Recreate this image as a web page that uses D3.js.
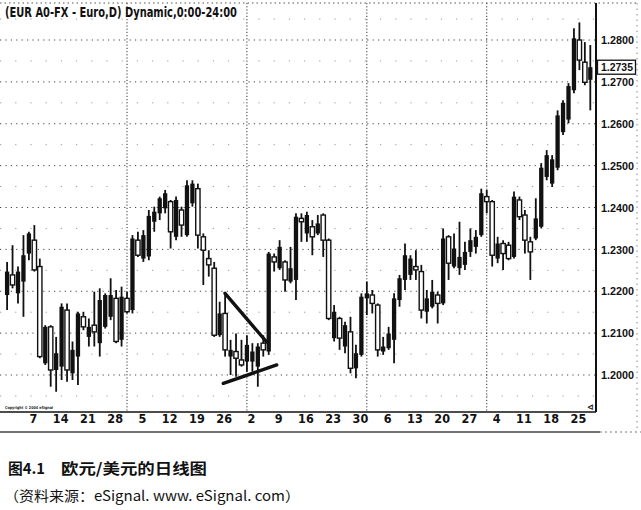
<!DOCTYPE html>
<html>
<head>
<meta charset="utf-8">
<script src="https://cdn.jsdelivr.net/npm/d3@7"></script>
<style>
  body { margin: 0; background: #fff; }
  svg { display: block; }
</style>
</head>
<body>
<svg id="chart"></svg>
<script>
// trading days of 2004, month by month
const junDays = [1,2,3,4,7,8,9,10,11,14,15,16,17,18,21,22,23,24,25,28,29,30];
const julDays = [1,2,5,6,7,8,9,12,13,14,15,16,19,20,21,22,23,26,27,28,29,30];
const augDays = [2,3,4,5,6,9,10,11,12,13,16,17,18,19,20,23,24,25,26,27,30,31];
const sepDays = [1,2,3,6,7,8,9,10,13,14,15,16,17,20,21,22,23,24,27,28,29,30];
const octDays = [1,4,5,6,7,8,11,12,13,14,15,18,19,20,21,22,25,26,27,28];

// daily OHLC
const opens = [
  1.2191,1.2239,1.2195,1.2223,1.2290,1.2322,1.2259,1.2028,1.2115,1.2012,1.2020,1.2155,1.2004,1.2044,1.2139,1.2091,1.2119,1.2076,1.2115,1.2139,1.2183,1.2084,
  1.2183,1.2155,1.2322,1.2278,1.2283,1.2366,1.2386,1.2398,1.2414,1.2330,1.2394,1.2334,1.2410,1.2445,1.2330,1.2278,1.2255,1.2095,1.2147,1.2044,1.2056,1.2036,
  1.2032,1.2032,1.2020,1.2076,1.2056,1.2282,1.2255,1.2270,1.2223,1.2227,1.2374,1.2338,1.2354,1.2338,1.2382,1.2322,1.2088,1.2135,1.2068,1.2103,1.2016,1.2048,
  1.2183,1.2191,1.2167,1.2056,1.2064,1.2084,1.2179,1.2227,1.2239,1.2259,1.2247,1.2151,1.2163,1.2191,1.2171,1.2330,1.2259,1.2255,1.2263,1.2294,1.2306,1.2334,
  1.2426,1.2414,1.2278,1.2314,1.2310,1.2282,1.2418,1.2382,1.2318,1.2326,1.2354,1.2473,1.2457,1.2495,1.2580,1.2610,1.2680,1.2800,1.2747,1.2705
];
const highs = [
  1.2270,1.2310,1.2259,1.2334,1.2342,1.2358,1.2278,1.2119,1.2119,1.2091,1.2171,1.2171,1.2080,1.2151,1.2151,1.2135,1.2199,1.2207,1.2195,1.2231,1.2203,1.2211,
  1.2199,1.2334,1.2342,1.2346,1.2394,1.2402,1.2426,1.2442,1.2418,1.2426,1.2402,1.2465,1.2465,1.2457,1.2338,1.2298,1.2270,1.2175,1.2191,1.2084,1.2099,1.2084,
  1.2095,1.2076,1.2076,1.2095,1.2294,1.2290,1.2322,1.2274,1.2306,1.2386,1.2386,1.2390,1.2370,1.2382,1.2386,1.2326,1.2167,1.2139,1.2127,1.2139,1.2072,1.2195,
  1.2223,1.2203,1.2171,1.2091,1.2115,1.2195,1.2239,1.2314,1.2286,1.2298,1.2263,1.2203,1.2227,1.2199,1.2350,1.2334,1.2338,1.2366,1.2318,1.2350,1.2346,1.2445,
  1.2442,1.2418,1.2330,1.2322,1.2318,1.2438,1.2426,1.2394,1.2330,1.2422,1.2506,1.2537,1.2525,1.2632,1.2656,1.2697,1.2828,1.2842,1.2795,1.2788
];
const lows = [
  1.2155,1.2207,1.2171,1.2139,1.2274,1.2247,1.2040,1.2024,1.1972,1.1960,1.1988,1.1984,1.1988,1.1976,1.2107,1.2068,1.2068,1.2044,1.2111,1.2131,1.2076,1.2068,
  1.2147,1.2147,1.2282,1.2270,1.2274,1.2342,1.2370,1.2386,1.2302,1.2322,1.2330,1.2330,1.2402,1.2302,1.2215,1.2235,1.2091,1.2091,1.2044,1.2000,1.1996,1.2020,
  1.2008,1.2008,1.1972,1.2044,1.2048,1.2247,1.2251,1.2199,1.2219,1.2179,1.2318,1.2318,1.2286,1.2334,1.2282,1.2131,1.2080,1.2060,1.2052,1.2004,1.1992,1.2044,
  1.2143,1.2147,1.2044,1.2048,1.2060,1.2028,1.2163,1.2203,1.2227,1.2227,1.2135,1.2123,1.2159,1.2123,1.2167,1.2227,1.2255,1.2239,1.2251,1.2282,1.2290,1.2330,
  1.2386,1.2259,1.2267,1.2251,1.2274,1.2278,1.2370,1.2290,1.2227,1.2322,1.2350,1.2465,1.2449,1.2489,1.2573,1.2601,1.2673,1.2728,1.2692,1.2632
];
const closes = [
  1.2247,1.2215,1.2247,1.2286,1.2338,1.2251,1.2044,1.2115,1.2012,1.2052,1.2163,1.2012,1.2060,1.2147,1.2115,1.2115,1.2103,1.2179,1.2191,1.2191,1.2080,1.2187,
  1.2151,1.2326,1.2286,1.2334,1.2380,1.2390,1.2422,1.2434,1.2342,1.2418,1.2358,1.2453,1.2457,1.2334,1.2298,1.2263,1.2095,1.2147,1.2060,1.2060,1.2040,1.2024,
  1.2072,1.2056,1.2068,1.2060,1.2290,1.2270,1.2306,1.2227,1.2255,1.2378,1.2366,1.2382,1.2330,1.2362,1.2322,1.2135,1.2151,1.2088,1.2119,1.2016,1.2052,1.2187,
  1.2195,1.2171,1.2060,1.2068,1.2099,1.2183,1.2231,1.2286,1.2278,1.2251,1.2155,1.2183,1.2199,1.2171,1.2326,1.2267,1.2302,1.2282,1.2294,1.2322,1.2330,1.2434,
  1.2414,1.2286,1.2314,1.2290,1.2278,1.2426,1.2378,1.2322,1.2294,1.2374,1.2495,1.2525,1.2515,1.2620,1.2650,1.2690,1.2804,1.2752,1.2699,1.2735
];

const priceTicks = [1.20, 1.21, 1.22, 1.23, 1.24, 1.25, 1.26, 1.27, 1.28];
const halfTicks = [1.195, 1.205, 1.215, 1.225, 1.235, 1.245, 1.255, 1.265, 1.275, 1.285];
const weekTicks = ['2004-06-07','2004-06-14','2004-06-21','2004-06-28','2004-07-05','2004-07-12','2004-07-19','2004-07-26',
                   '2004-08-02','2004-08-09','2004-08-16','2004-08-23','2004-08-30','2004-09-06','2004-09-13','2004-09-20',
                   '2004-09-27','2004-10-04','2004-10-11','2004-10-18','2004-10-25'];
const monthStarts = ['2004-07-01','2004-08-02','2004-09-01','2004-10-01'];
const lastPrice = 1.2735;

// hand drawn triangle on the chart, in bar index / price
const trendLines = [
  { i0: 39.98, p0: 1.2195, i1: 47.6, p1: 1.2079 },
  { i0: 39.67, p0: 1.1980, i1: 49.47, p1: 1.2024 }
];

const title = '(EUR A0-FX - Euro,D) Dynamic,0:00-24:00';
const caption1 = ['图4.1', '欧元/美元的日线图'];
const caption2 = '（资料来源：eSignal. www. eSignal. com）';

// build the date list
const pad = d => (d < 10 ? '0' : '') + d;
const dates = [].concat(
  junDays.map(d => '2004-06-' + pad(d)),
  julDays.map(d => '2004-07-' + pad(d)),
  augDays.map(d => '2004-08-' + pad(d)),
  sepDays.map(d => '2004-09-' + pad(d)),
  octDays.map(d => '2004-10-' + pad(d))
);
const bars = dates.map((d, i) => ({ date: d, i: i, o: opens[i], h: highs[i], l: lows[i], c: closes[i] }));

const width = 641, height = 510;
const plotRight = 596, plotTop = 3, plotBottom = 412;

const svg = d3.select('#chart')
  .attr('width', width)
  .attr('height', height)
  .attr('viewBox', `0 0 ${width} ${height}`);

svg.append('rect').attr('width', width).attr('height', height).attr('fill', '#fff');

const x = d3.scaleLinear().domain([0, bars.length - 1]).range([7.1, 590.3]);
const y = d3.scaleLinear().domain([1.20, 1.28]).range([375, 40]);
const idx = d => dates.indexOf(d);

const narrow = "'Liberation Sans Narrow','Arial Narrow','DejaVu Sans Condensed',sans-serif";
const arial = "'Liberation Sans',Arial,sans-serif";

// grid
const grid = svg.append('g');
grid.selectAll('.hgrid')
  .data(priceTicks)
  .enter().append('line')
  .attr('x1', 0).attr('x2', plotRight)
  .attr('y1', d => y(d)).attr('y2', d => y(d))
  .attr('stroke', '#444').attr('stroke-width', 1)
  .attr('stroke-dasharray', '1.2 4.2');
grid.selectAll('.hhalf')
  .data(halfTicks.filter(d => y(d) > plotTop && y(d) < plotBottom))
  .enter().append('line')
  .attr('x1', 0).attr('x2', plotRight)
  .attr('y1', d => y(d)).attr('y2', d => y(d))
  .attr('stroke', '#999').attr('stroke-width', 1)
  .attr('stroke-dasharray', '1.2 14');
grid.selectAll('.vgrid')
  .data(monthStarts)
  .enter().append('line')
  .attr('x1', d => x(idx(d))).attr('x2', d => x(idx(d)))
  .attr('y1', plotTop).attr('y2', plotBottom)
  .attr('stroke', '#333').attr('stroke-width', 1)
  .attr('stroke-dasharray', '1.2 2');

// frame
svg.append('line').attr('x1', 0).attr('x2', 638).attr('y1', plotTop).attr('y2', plotTop)
  .attr('stroke', '#555').attr('stroke-dasharray', '1.5 3');
svg.append('line').attr('x1', 637).attr('x2', 637).attr('y1', plotTop).attr('y2', 432)
  .attr('stroke', '#888').attr('stroke-dasharray', '1.5 4');
svg.append('line').attr('x1', 0).attr('x2', 600).attr('y1', 432).attr('y2', 432)
  .attr('stroke', '#444').attr('stroke-width', 1.3);
svg.append('line').attr('x1', 600).attr('x2', 641).attr('y1', 432).attr('y2', 432)
  .attr('stroke', '#777').attr('stroke-dasharray', '2 3');

// candles
const candles = svg.append('g');
const bodyW = 4.3;
candles.selectAll('.wick')
  .data(bars)
  .enter().append('line')
  .attr('x1', d => x(d.i)).attr('x2', d => x(d.i))
  .attr('y1', d => y(d.h)).attr('y2', d => y(d.l))
  .attr('stroke', '#111').attr('stroke-width', 1.8);
candles.selectAll('.body')
  .data(bars)
  .enter().append('rect')
  .attr('x', d => x(d.i) - bodyW / 2)
  .attr('y', d => y(Math.max(d.o, d.c)))
  .attr('width', bodyW)
  .attr('height', d => Math.max(1.5, Math.abs(y(d.o) - y(d.c))))
  .attr('fill', d => d.c >= d.o ? '#111' : '#fff')
  .attr('stroke', '#111')
  .attr('stroke-width', d => d.c >= d.o ? 0 : 1.4);

// triangle drawn on the chart
svg.selectAll('.trend')
  .data(trendLines)
  .enter().append('line')
  .attr('x1', d => x(d.i0)).attr('y1', d => y(d.p0))
  .attr('x2', d => x(d.i1)).attr('y2', d => y(d.p1))
  .attr('stroke', '#111').attr('stroke-width', 3.4).attr('stroke-linecap', 'round');

// price axis
const yAxis = svg.append('g')
  .attr('transform', `translate(${plotRight},0)`)
  .call(d3.axisRight(y).tickValues(priceTicks).tickFormat(d3.format('.4f')).tickSize(0).tickPadding(5));
yAxis.select('.domain').remove();
yAxis.selectAll('text')
  .attr('font-family', arial).attr('font-weight', 'bold').attr('font-size', 11.5)
  .attr('fill', '#111')
  .attr('textLength', 33).attr('lengthAdjust', 'spacingAndGlyphs');

// last price marker
const lp = svg.append('g').attr('transform', `translate(597,${y(lastPrice)})`);
lp.append('rect').attr('x', 0.5).attr('y', -7).attr('width', 38).attr('height', 14)
  .attr('fill', '#fff').attr('stroke', '#111').attr('stroke-width', 1.3);
lp.append('text').attr('x', 4).attr('y', 0).attr('dy', '0.35em')
  .attr('font-family', arial).attr('font-weight', 'bold').attr('font-size', 11.5)
  .attr('fill', '#111')
  .attr('textLength', 32).attr('lengthAdjust', 'spacingAndGlyphs')
  .text(d3.format('.4f')(lastPrice));

// date axis
const xAxis = svg.append('g')
  .attr('transform', `translate(0,${plotBottom})`)
  .call(d3.axisBottom(x).tickValues(weekTicks.map(idx)).tickFormat(i => +dates[i].slice(8)).tickSize(0).tickPadding(2));
xAxis.select('.domain').remove();
xAxis.selectAll('text')
  .attr('dx', 4)
  .attr('font-family', narrow).attr('font-weight', 'bold').attr('font-size', 12.5)
  .attr('fill', '#111');

svg.append('line').attr('x1', 0).attr('x2', plotRight).attr('y1', plotBottom).attr('y2', plotBottom)
  .attr('stroke', '#111').attr('stroke-width', 1.6);
svg.append('line').attr('x1', plotRight).attr('x2', plotRight).attr('y1', plotTop).attr('y2', plotBottom)
  .attr('stroke', '#111').attr('stroke-width', 2);

// small corner bits
svg.append('text').attr('x', 5).attr('y', 408.5)
  .attr('font-family', narrow).attr('font-size', 4).attr('font-weight', 'bold').attr('fill', '#222')
  .attr('textLength', 48).attr('lengthAdjust', 'spacingAndGlyphs')
  .text('Copyright © 2004 eSignal');
svg.append('text').attr('x', 587).attr('y', 410)
  .attr('font-family', narrow).attr('font-size', 9).attr('font-weight', 'bold').attr('fill', '#222')
  .text('⊲');

// title
svg.append('text').attr('x', 5).attr('y', 17)
  .attr('font-family', narrow).attr('font-weight', 'bold').attr('font-size', 14)
  .attr('fill', '#111')
  .attr('textLength', 232).attr('lengthAdjust', 'spacingAndGlyphs')
  .text(title);

// caption
const cap = svg.append('text').attr('y', 474)
  .attr('font-family', "'Noto Sans CJK SC',sans-serif").attr('font-weight', 'bold').attr('font-size', 15)
  .attr('fill', '#111');
cap.append('tspan').attr('x', 8).attr('textLength', 37).attr('lengthAdjust', 'spacingAndGlyphs').text(caption1[0]);
cap.append('tspan').attr('x', 61).attr('textLength', 146).attr('lengthAdjust', 'spacingAndGlyphs').text(caption1[1]);

svg.append('text').attr('x', 4).attr('y', 501)
  .attr('font-family', "'Noto Sans CJK SC',sans-serif").attr('font-size', 14)
  .attr('fill', '#111')
  .attr('textLength', 296).attr('lengthAdjust', 'spacingAndGlyphs')
  .text(caption2);
</script>
</body>
</html>
